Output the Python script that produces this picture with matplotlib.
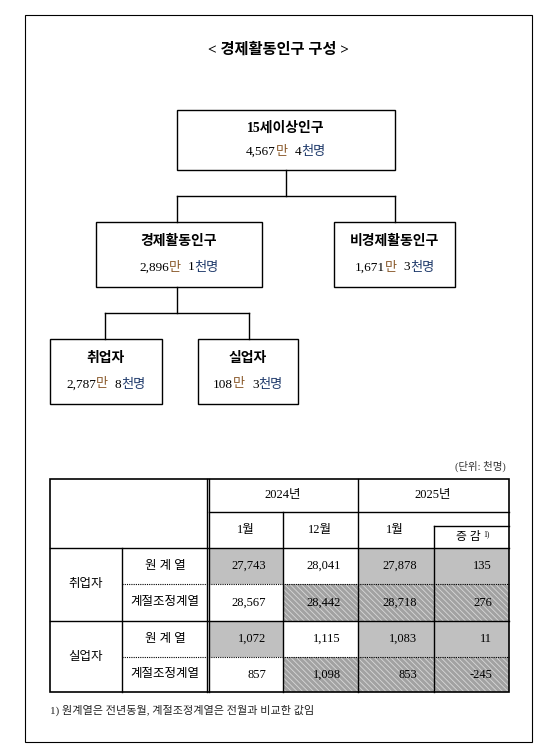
import matplotlib.pyplot as plt
from matplotlib.patches import Rectangle

plt.rcParams["font.family"] = ["Liberation Serif", "Noto Sans CJK KR"]

# tree: name, 만 part, 천 part
tree_names = ["15세이상인구", "경제활동인구", "비경제활동인구", "취업자", "실업자"]
tree_man = ["4,567", "2,896", "1,671", "2,787", "108"]
tree_cheon = ["4", "1", "3", "8", "3"]

# table
col_groups = ["2024년", "2025년"]
col_months = ["1월", "12월", "1월"]
col_diff = "증 감"
row_groups = ["취업자", "실업자"]
row_series = ["원 계 열", "계절조정계열"]
values = [
    [27743, 28041, 27878, 135],
    [28567, 28442, 28718, 276],
    [1072, 1115, 1083, 11],
    [857, 1098, 853, -245],
]

fig = plt.figure(figsize=(5.6, 7.54), dpi=100)
ax = fig.add_axes([0, 0, 1, 1])
ax.set_xlim(0, 560)
ax.set_ylim(754, 0)
ax.axis("off")
renderer = fig.canvas.get_renderer()


def px_width(s, size):
    t = ax.text(0, 0, s, fontsize=size)
    w = t.get_window_extent(renderer).width
    t.remove()
    return w


ax.add_patch(Rectangle((25, 15), 507, 727, fill=False, lw=0.8, color="black"))
ax.text(278, 50, "< 경제활동인구 구성 >", ha="center", va="center", fontsize=11, fontweight="bold")

boxes = [(177, 110, 218, 60), (96, 222, 166, 65), (334, 222, 121, 65),
         (50, 339, 112, 65), (198, 339, 100, 65)]
fs = 9.5
for (x, y, w, h), name, m, c in zip(boxes, tree_names, tree_man, tree_cheon):
    ax.add_patch(Rectangle((x, y), w, h, fill=False, lw=1.0, color="black"))
    cx = x + w / 2
    ax.text(cx, y + h * 0.30, name, ha="center", va="center", fontsize=10, fontweight="bold")
    parts = [(m, "black"), ("만  ", "#8a5a2b"), (c, "black"), ("천명", "#1f3a6b")]
    widths = [px_width(p, fs) for p, _ in parts]
    xx = cx - sum(widths) / 2
    for (p, col), wd in zip(parts, widths):
        ax.text(xx, y + h * 0.70, p, ha="left", va="center", fontsize=fs, color=col)
        xx += wd

lk = dict(color="black", lw=1.0)
ax.plot([286, 286], [170, 196], **lk)
ax.plot([177, 395], [196, 196], **lk)
ax.plot([177, 177], [196, 222], **lk)
ax.plot([395, 395], [196, 222], **lk)
ax.plot([177, 177], [287, 313], **lk)
ax.plot([105, 249], [313, 313], **lk)
ax.plot([105, 105], [313, 339], **lk)
ax.plot([249, 249], [313, 339], **lk)

# table
ax.text(506, 466, "(단위: 천명)", ha="right", va="center", fontsize=7.5, color="#333333")
L, R, T, B = 50, 509, 479, 692
cols = [209, 283, 358, 434, 509]
rows = [548, 584, 621, 657, 692]
shade = [["g", "w", "g", "g"], ["w", "h", "h", "h"]] * 2
plt.rcParams["hatch.linewidth"] = 0.6
for i in range(4):
    for j in range(4):
        kind = shade[i][j]
        x0, x1 = cols[j], cols[j + 1]
        y0, y1 = rows[i], rows[i + 1]
        if kind == "g":
            ax.add_patch(Rectangle((x0, y0), x1 - x0, y1 - y0, fc="#c0c0c0", ec="none"))
        elif kind == "h":
            ax.add_patch(Rectangle((x0, y0), x1 - x0, y1 - y0, fc="#a2a2a2", ec="#d8d8d8",
                                   lw=0, hatch="\\\\\\\\\\\\"))
        v = values[i][j]
        ax.text(x1 - 17, (y0 + y1) / 2, f"{v:,}", ha="right", va="center", fontsize=9)

k = dict(color="black", lw=1.0)
ax.add_patch(Rectangle((L, T), R - L, B - T, fill=False, lw=1.2, color="black"))
ax.plot([207, 207], [T, B], **k)
ax.plot([209, 209], [T, B], **k)
ax.plot([209, R], [512, 512], **k)
ax.plot([358, 358], [T, B], **k)
ax.plot([283, 283], [512, B], **k)
ax.plot([434, 434], [526, B], **k)
ax.plot([434, R], [526, 526], **k)
ax.plot([L, R], [548, 548], **k)
ax.plot([L, R], [621, 621], **k)
ax.plot([122, 122], [548, B], **k)
ax.plot([122, R], [584, 584], color="black", lw=0.8, ls=(0, (1, 1)))
ax.plot([122, R], [657, 657], color="black", lw=0.8, ls=(0, (1, 1)))

ax.text(283, 495, col_groups[0], ha="center", va="center", fontsize=9)
ax.text(433, 495, col_groups[1], ha="center", va="center", fontsize=9)
for xc, m in zip([246, 320, 395], col_months):
    ax.text(xc, 530, m, ha="center", va="center", fontsize=9)
ax.text(468, 537, col_diff, ha="center", va="center", fontsize=8.5)
ax.text(483, 534, "1)", ha="left", va="center", fontsize=5.5)

for g, name in enumerate(row_groups):
    ax.text(86, rows[2 * g + 1], name, ha="center", va="center", fontsize=9)
    for s, sname in enumerate(row_series):
        y = (rows[2 * g + s] + rows[2 * g + s + 1]) / 2
        ax.text(165, y, sname, ha="center", va="center", fontsize=9)

ax.text(50, 710, "1) 원계열은 전년동월, 계절조정계열은 전월과 비교한 값임",
        ha="left", va="center", fontsize=8, color="#222222")

fig.savefig("out.png", dpi=100, facecolor="white")
